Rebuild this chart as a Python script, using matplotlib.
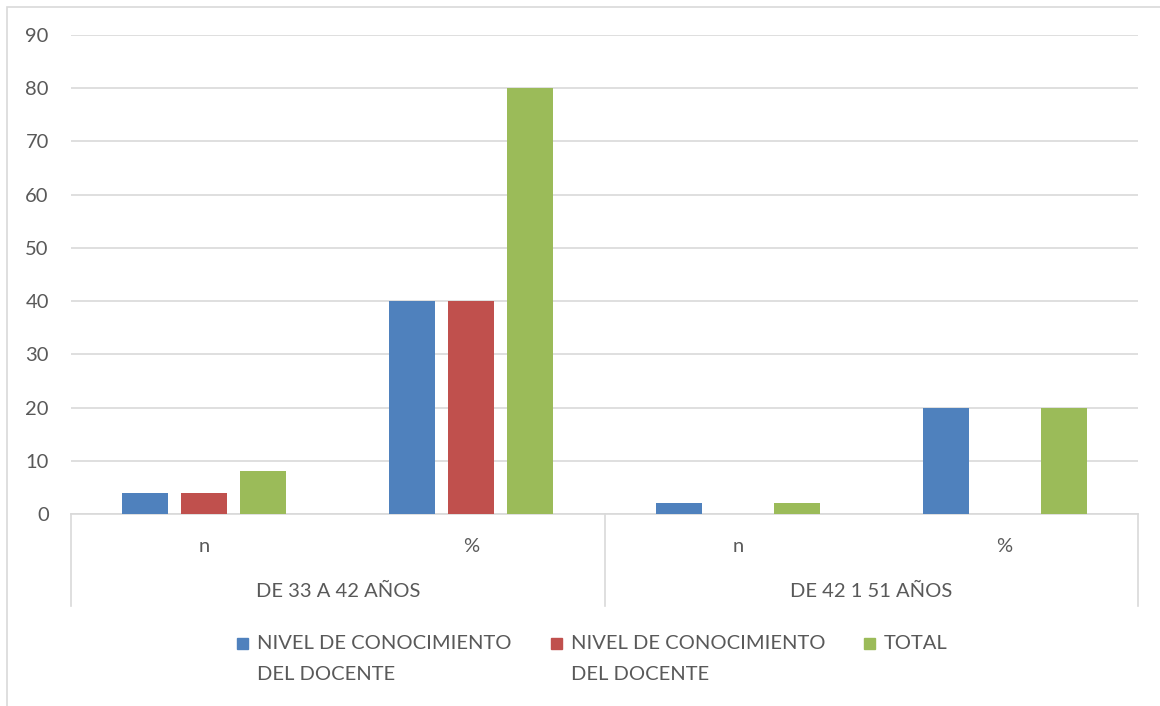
import matplotlib.pyplot as plt
from matplotlib.patches import Rectangle
import numpy as np

plt.rcParams['font.family'] = ['Lato', 'DejaVu Sans']

# datos por categoría (edad / medida)
groups = ['DE 33 A 42 AÑOS', 'DE 42 1 51 AÑOS']
sub_labels = ['n', '%', 'n', '%']
series_names = ['NIVEL DE CONOCIMIENTO\nDEL DOCENTE',
                'NIVEL DE CONOCIMIENTO\nDEL DOCENTE',
                'TOTAL']
nivel_a = [4, 40, 2, 20]
nivel_b = [4, 40, 0, 0]
total = [8, 80, 2, 20]
colors = ['#4F81BD', '#C0504D', '#9BBB59']
text_col = '#595959'
grid_col = '#D9D9D9'
fs = 14.5

W, H = 1160, 706
fig = plt.figure(figsize=(W / 100, H / 100), dpi=100)
ax = fig.add_axes([71 / W, 1 - 514 / H, (1138 - 71) / W, (514 - 35) / H])

x = np.arange(len(sub_labels))
width = 0.172
step = 0.221
for i, vals in enumerate([nivel_a, nivel_b, total]):
    ax.bar(x + (i - 1) * step, vals, width, color=colors[i], zorder=3)

ax.set_xlim(-0.5, len(sub_labels) - 0.5)
ax.set_ylim(0, 90)
ax.set_yticks(range(0, 91, 10))
ax.yaxis.grid(True, color=grid_col, linewidth=1.2, zorder=0)
ax.tick_params(axis='y', length=0, pad=16, labelsize=fs, labelcolor=text_col)
ax.tick_params(axis='x', length=0, bottom=False, labelbottom=False)
for s in ['top', 'right', 'left']:
    ax.spines[s].set_visible(False)
ax.spines['bottom'].set_color(grid_col)
ax.spines['bottom'].set_linewidth(1.2)

# eje de categorías en dos niveles
tr = ax.get_xaxis_transform()
for b in [-0.5, 1.5, 3.5]:
    ax.plot([b, b], [0, -0.192], transform=tr, color=grid_col,
            linewidth=1.2, clip_on=False)
for xi, lab in zip(x, sub_labels):
    ax.text(xi, -33 / 479, lab, transform=tr, ha='center', va='center',
            fontsize=fs, color=text_col)
for gi, g in enumerate(groups):
    ax.text(gi * 2 + 0.5, -77 / 479, g, transform=tr, ha='center',
            va='center', fontsize=fs, color=text_col)

# leyenda
leg_x = [237, 551, 864]
for lx, name, c in zip(leg_x, series_names, colors):
    fig.patches.append(Rectangle((lx / W, 1 - 649 / H), 11 / W, 11 / H,
                                 transform=fig.transFigure, color=c))
    fig.text((lx + 20) / W, 1 - 635 / H, name, ha='left', va='top',
             fontsize=fs, color=text_col, linespacing=2.0)

# marco del gráfico
fig.patches.append(Rectangle((7 / W, -0.01), 1.02, 1 - 7 / H + 0.01,
                             transform=fig.transFigure, fill=False,
                             edgecolor=grid_col, linewidth=1.2))

fig.savefig('out.png', dpi=100)
